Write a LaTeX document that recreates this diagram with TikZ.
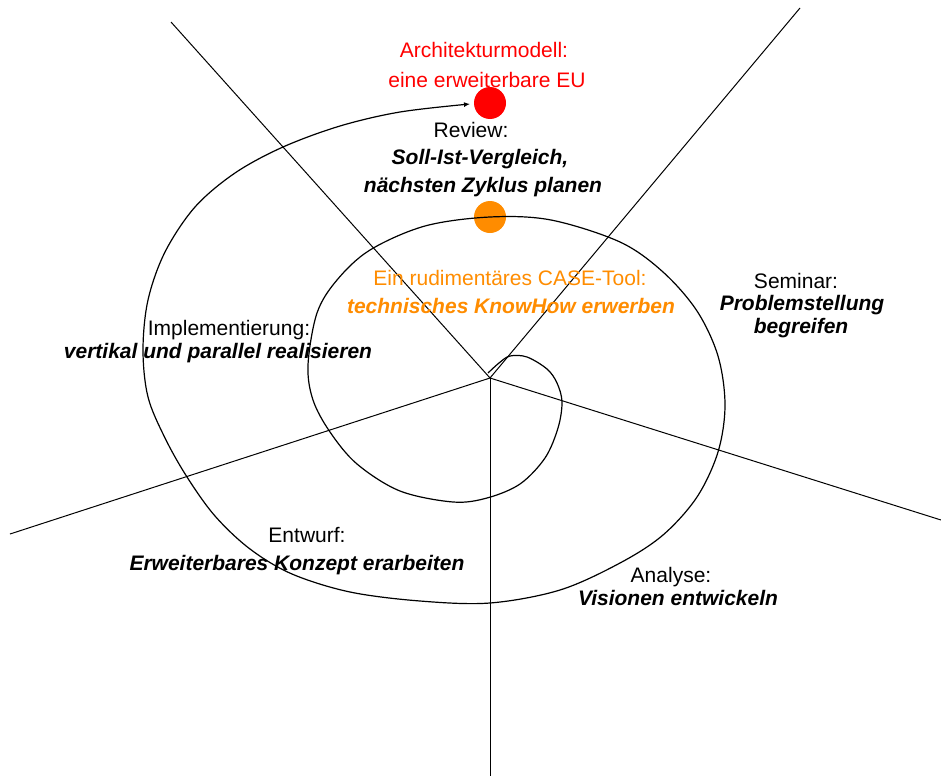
\documentclass[tikz,border=0pt]{standalone}
\usepackage{fontspec}
\setmainfont{Liberation Sans}
\usetikzlibrary{arrows.meta}
\definecolor{dotred}{RGB}{255,0,0}
\definecolor{dotorange}{RGB}{255,140,0}
\tikzset{
  axis/.style={line width=1pt, black},
  spiralpath/.style={line width=1.2pt, black, -{Latex[length=6pt,width=5pt]}},
  phasedot/.style={circle, minimum size=32pt, inner sep=0pt, draw=none},
  plain/.style={anchor=base, inner sep=0pt, font=\fontsize{21}{25}\selectfont},
  task/.style={anchor=base, inner sep=0pt, font=\fontsize{21}{25}\selectfont\bfseries\itshape},
}
\begin{document}
\begin{tikzpicture}[x=1pt, y=-1pt]
\useasboundingbox (0,0) rectangle (941,776);

% centre of the spiral and the outer ends of the phase borders
\coordinate (O) at (490,378);
\coordinate (nw) at (171,22);
\coordinate (ne) at (800,8);
\coordinate (ee) at (941,520);
\coordinate (ww) at (10,534);
\coordinate (ss) at (490,776);

\draw[axis] (O) -- (nw);
\draw[axis] (O) -- (ne);
\draw[axis] (O) -- (ee);
\draw[axis] (O) -- (ww);
\draw[axis] (O) -- (ss);

% milestone dots
\node[phasedot, fill=dotred] (arch) at (490,103) {};
\node[phasedot, fill=dotorange] (case) at (490,217) {};

% the growing spiral, ending at the architecture milestone
\draw[spiralpath] plot[smooth, tension=0.55] coordinates {
  (488,373) (499,363) (510,356) (527,357) (547,369) (557,383) (562,402)
  (558,428) (545,458) (520,484) (487,498) (453,502) (400,491) (357,464)
  (330,432) (313,400) (308,365) (317,313) (337,280) (370,250) (425,226)
  (490,217) (551,220) (620,242) (663,272) (697,311) (718,356) (725,405)
  (718,452) (697,497) (663,535) (620,563) (560,590) (490,603) (420,601)
  (350,592) (292,574) (250,549) (215,516) (187,477) (165,438) (148,397)
  (143,350) (148,300) (165,252) (195,207) (235,173) (283,147) (340,126)
  (400,112) (470,104)
};

% milestone labels
\node[plain, text=dotred] (archA) at (484,58) {Architekturmodell:};
\node[plain, text=dotred] (archB) at (487,87) {eine erweiterbare EU};

\node[plain] (revA) at (471,137) {Review:};
\node[task] (revB) at (480,164) {Soll-Ist-Vergleich,};
\node[task] (revC) at (483,192) {nächsten Zyklus planen};

\node[plain, text=dotorange] (caseA) at (510,285) {Ein rudimentäres CASE-Tool:};
\node[task, text=dotorange] (caseB) at (511,313) {technisches KnowHow erwerben};

% phase labels
\node[plain] (semA) at (796,288) {Seminar:};
\node[task] (semB) at (802,310) {Problemstellung};
\node[task] (semC) at (801,333) {begreifen};

\node[plain] (impA) at (229,335) {Implementierung:};
\node[task] (impB) at (218,358) {vertikal und parallel realisieren};

\node[plain] (entA) at (307,542) {Entwurf:};
\node[task] (entB) at (297,570) {Erweiterbares Konzept erarbeiten};

\node[plain] (anaA) at (671,582) {Analyse:};
\node[task] (anaB) at (678,605) {Visionen entwickeln};
\end{tikzpicture}
\end{document}
